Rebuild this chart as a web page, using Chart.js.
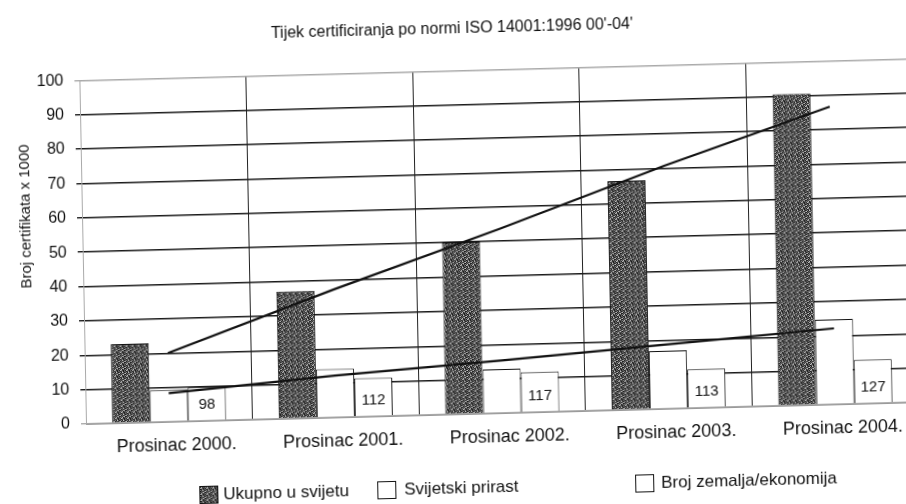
<!DOCTYPE html>
<html>
<head>
<meta charset="utf-8">
<script src="https://cdn.jsdelivr.net/npm/chart.js@4.4.0/dist/chart.umd.min.js"></script>
<style>
  html, body { margin: 0; padding: 0; background: #fff; overflow: hidden; width: 906px; height: 504px; }
  #wrap {
    position: absolute; left: 0; top: 0; width: 926px; height: 520px;
    transform: rotate(-1.5deg) skewX(-0.4deg); transform-origin: 86px 424px;
  }
  canvas { display: block; }
</style>
</head>
<body>
<div id="wrap"><canvas id="isoChart" width="926" height="520"></canvas></div>
<script>
const categories = ['Prosinac 2000.', 'Prosinac 2001.', 'Prosinac 2002.', 'Prosinac 2003.', 'Prosinac 2004.'];
const seriesNames = ['Ukupno u svijetu', 'Svijetski prirast', 'Broj zemalja/ekonomija'];
const totalWorld = [23.0, 37.0, 50.0, 66.6, 90.6];
const worldGrowth = [9.2, 14.1, 12.8, 16.9, 24.7];
const countryBars = [9.8, 11.2, 11.7, 11.3, 12.7];
const countryLabels = ['98', '112', '117', '113', '127'];
const totalTrend = [20.0, 37.2, 53.5, 70.7, 86.6];
const growthTrend = [8.3, 12.2, 15.3, 18.7, 22.1];

const FONT = "'Liberation Sans', Arial, sans-serif";

// scanned-looking grey speckle for the dark bars
function speckle() {
  const rows = ['201302', '130420', '402113', '021340', '314021', '043102'];
  const levels = [25, 60, 95, 140, 200];
  const c = document.createElement('canvas');
  c.width = 6; c.height = 6;
  const g = c.getContext('2d');
  rows.forEach((r, y) => {
    for (let x = 0; x < 6; x++) {
      const v = levels[+r[x]];
      g.fillStyle = `rgb(${v},${v},${v})`;
      g.fillRect(x, y, 1, 1);
    }
  });
  return g.createPattern(c, 'repeat');
}
const darkFill = speckle();

const extras = {
  id: 'extras',
  afterDatasetsDraw(chart) {
    const ctx = chart.ctx;
    const meta = chart.getDatasetMeta(4);
    ctx.save();
    ctx.fillStyle = '#111';
    ctx.font = '15px ' + FONT;
    ctx.textAlign = 'center';
    ctx.textBaseline = 'middle';
    meta.data.forEach((bar, i) => {
      ctx.fillText(countryLabels[i], bar.x, bar.base - 15);
    });
    ctx.restore();
  },
  afterDraw(chart) {
    const ctx = chart.ctx;
    ctx.save();
    // y axis title
    ctx.translate(30, 215);
    ctx.rotate(-Math.PI / 2);
    ctx.fillStyle = '#111';
    ctx.font = '15px ' + FONT;
    ctx.textAlign = 'center';
    ctx.textBaseline = 'middle';
    ctx.fillText('Broj certifikata x 1000', 0, 0);
    ctx.restore();

    // legend
    const items = [
      { box: 198, text: 222, fill: darkFill },
      { box: 376, text: 403, fill: '#fff' },
      { box: 634, text: 660, fill: '#fff' }
    ];
    ctx.save();
    ctx.font = '17px ' + FONT;
    ctx.textBaseline = 'middle';
    items.forEach((it, i) => {
      ctx.fillStyle = it.fill;
      ctx.fillRect(it.box, 489, 18, 17);
      ctx.strokeStyle = '#111';
      ctx.lineWidth = 1;
      ctx.strokeRect(it.box + 0.5, 489.5, 18, 17);
      ctx.fillStyle = '#111';
      ctx.fillText(seriesNames[i], it.text, 498);
    });
    ctx.restore();
  }
};

new Chart(document.getElementById('isoChart'), {
  type: 'bar',
  data: {
    labels: categories,
    datasets: [
      { type: 'line', data: totalTrend, borderColor: '#111', borderWidth: 2.2, pointRadius: 0, fill: false, order: 0 },
      { type: 'line', data: growthTrend, borderColor: '#111', borderWidth: 2.2, pointRadius: 0, fill: false, order: 0 },
      { label: seriesNames[0], data: totalWorld, backgroundColor: darkFill, borderColor: '#111', borderWidth: 1, order: 1 },
      { label: seriesNames[1], data: worldGrowth, backgroundColor: '#fff', borderColor: '#111', borderWidth: 1, order: 1 },
      { label: seriesNames[2], data: countryBars, backgroundColor: '#fff', borderColor: '#111', borderWidth: 1, order: 1 }
    ]
  },
  options: {
    responsive: false,
    animation: false,
    layout: { padding: { left: 0, right: 7, top: 0, bottom: 0 } },
    datasets: { bar: { categoryPercentage: 0.685, barPercentage: 1.0 } },
    plugins: {
      legend: { display: false },
      tooltip: { enabled: false },
      title: {
        display: true,
        text: "Tijek certificiranja po normi ISO 14001:1996 00'-04'",
        color: '#111',
        font: { family: FONT, size: 16, weight: 'normal' },
        padding: { top: 29, bottom: 32 }
      }
    },
    scales: {
      x: {
        grid: {
          offset: true,
          drawTicks: false,
          color: c => c.index === 0 ? '#999' : '#222',
          lineWidth: 1
        },
        border: { color: '#999', width: 1 },
        ticks: { color: '#111', font: { family: FONT, size: 18 }, padding: 13, labelOffset: 7, maxRotation: 0 },
        afterFit: s => { s.height = 96; }
      },
      y: {
        min: 0,
        max: 100,
        ticks: { stepSize: 10, color: '#111', font: { family: FONT, size: 16 }, padding: 11 },
        grid: {
          color: c => (c.tick && (c.tick.value === 0 || c.tick.value === 100)) ? '#aaa' : '#1a1a1a',
          lineWidth: 1.4,
          tickLength: 5
        },
        border: { color: '#aaa', width: 1 },
        afterFit: s => { s.width = 86; }
      }
    }
  },
  plugins: [extras]
});
</script>
</body>
</html>
